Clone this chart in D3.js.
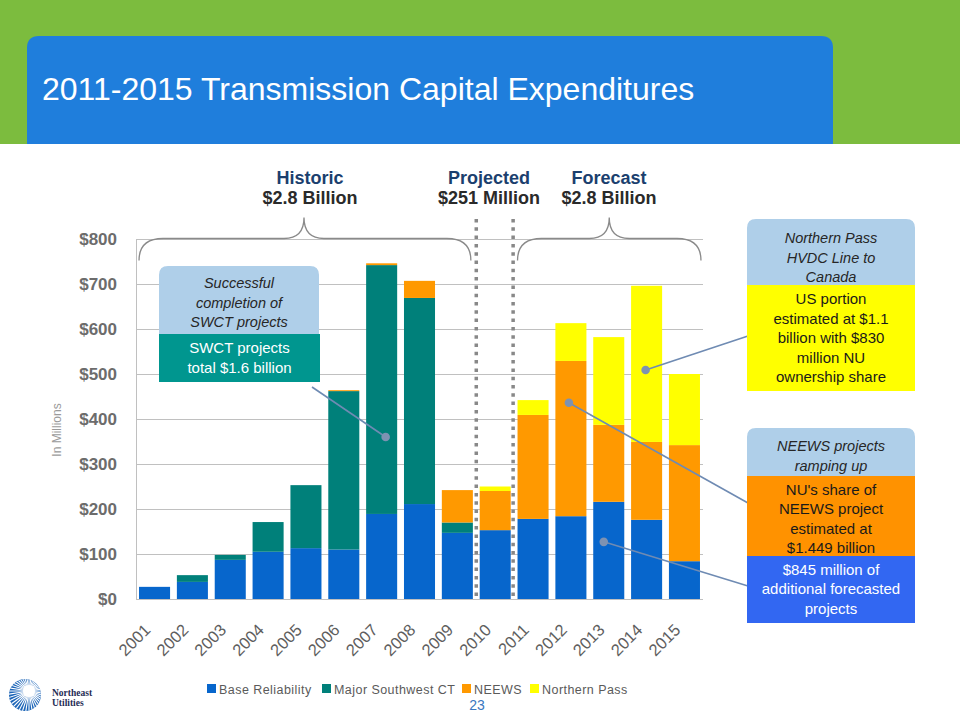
<!DOCTYPE html>
<html>
<head>
<meta charset="utf-8">
<script src="https://cdn.jsdelivr.net/npm/d3@7"></script>
<style>
  html, body { margin: 0; padding: 0; background: #fff; }
  svg { display: block; font-family: Arial, "Liberation Sans", sans-serif; }
</style>
</head>
<body>
<svg id="chart" width="960" height="720"></svg>
<script>
// ---------- DATA ----------
const years = ["2001","2002","2003","2004","2005","2006","2007","2008","2009","2010","2011","2012","2013","2014","2015"];
const baseReliability = [27, 38, 87, 105, 113, 110, 189, 211, 147, 153, 178, 184, 216, 176, 84];
const majorSouthwestCT = [0, 15, 11, 66, 140, 352, 553, 458, 23, 0, 0, 0, 0, 0, 0];
const neews = [0, 0, 0, 0, 0, 2, 4, 38, 72, 87, 231, 345, 171, 173, 258];
const northernPass = [0, 0, 0, 0, 0, 0, 0, 0, 0, 10, 33, 84, 195, 347, 158];
const seriesNames = ["Base Reliability", "Major Southwest CT", "NEEWS", "Northern Pass"];
const seriesColors = ["#0766CC", "#00807A", "#FF9900", "#FFFF00"];
const yTicks = [0, 100, 200, 300, 400, 500, 600, 700, 800];
const title = "2011-2015 Transmission Capital Expenditures";
const periodHeads = [
  { head: "Historic", sub: "$2.8 Billion" },
  { head: "Projected", sub: "$251 Million" },
  { head: "Forecast", sub: "$2.8 Billion" }
];

// ---------- SETUP ----------
const svg = d3.select("#chart");
const table = years.map((y, i) => ({
  year: y,
  "Base Reliability": baseReliability[i],
  "Major Southwest CT": majorSouthwestCT[i],
  "NEEWS": neews[i],
  "Northern Pass": northernPass[i]
}));

const x = d3.scaleBand().domain(years).range([136, 703]).paddingInner(0.18).paddingOuter(0.08);
const y = d3.scaleLinear().domain([0, 800]).range([599, 239]);
const color = d3.scaleOrdinal().domain(seriesNames).range(seriesColors);

// ---------- HEADER ----------
svg.append("rect").attr("x", 0).attr("y", 0).attr("width", 960).attr("height", 144).attr("fill", "#7CBC3E");
const bx0 = 27, bx1 = 833, by0 = 36, by1 = 144, br = 12;
svg.append("path")
  .attr("d", `M${bx0},${by1} L${bx0},${by0 + br} Q${bx0},${by0} ${bx0 + br},${by0} L${bx1 - br},${by0} Q${bx1},${by0} ${bx1},${by0 + br} L${bx1},${by1} Z`)
  .attr("fill", "#1F7EDC");
svg.append("text").attr("x", 42).attr("y", 100).attr("fill", "#fff")
  .attr("font-size", 32).text(title);

// ---------- GRID ----------
const grid = svg.append("g").attr("transform", "translate(136,0)")
  .call(d3.axisLeft(y).tickValues(yTicks).tickSize(-567).tickFormat(""));
grid.select(".domain").remove();
grid.selectAll("line").attr("stroke", "#C0C0C0").attr("stroke-width", 1);
svg.append("line").attr("x1", 136.5).attr("x2", 136.5).attr("y1", y(800)).attr("y2", y(0))
  .attr("stroke", "#C0C0C0");

// Y tick labels
const yAxis = svg.append("g").attr("transform", "translate(117,0)")
  .call(d3.axisLeft(y).tickValues(yTicks).tickSize(0).tickPadding(0).tickFormat(d => "$" + d));
yAxis.select(".domain").remove();
yAxis.selectAll("text").attr("font-size", 17).attr("font-weight", "bold")
  .attr("fill", "#6C6C6C").attr("font-family", "Arial, 'Liberation Sans', sans-serif");

svg.append("text").attr("transform", "translate(61,430) rotate(-90)")
  .attr("text-anchor", "middle").attr("font-size", 12).attr("fill", "#9A9A9A").text("In Millions");

// ---------- BARS ----------
const stacked = d3.stack().keys(seriesNames)(table);
svg.append("g").selectAll("g").data(stacked).join("g")
  .attr("fill", d => color(d.key))
  .selectAll("rect").data(d => d).join("rect")
  .attr("x", d => x(d.data.year))
  .attr("width", x.bandwidth())
  .attr("y", d => y(d[1]))
  .attr("height", d => Math.max(0, y(d[0]) - y(d[1])));

// X labels
svg.append("g").selectAll("text").data(years).join("text")
  .attr("transform", d => `translate(${x(d) + x.bandwidth() / 2 - 3},${631}) rotate(-45)`)
  .attr("text-anchor", "end").attr("font-size", 16.5).attr("fill", "#5E5E5E").text(d => d);

// ---------- DIVIDERS ----------
const div1 = (x("2009") + x.bandwidth() + x("2010")) / 2;
const div2 = (x("2010") + x.bandwidth() + x("2011")) / 2 - 1;
[div1, div2].forEach(xx => {
  svg.append("line").attr("x1", xx).attr("x2", xx).attr("y1", 219).attr("y2", y(0))
    .attr("stroke", "#888").attr("stroke-width", 3.5).attr("stroke-dasharray", "3.5 4.8");
});

// ---------- BRACES ----------
function brace(xa, xb, xm) {
  const y0 = y(800) - 0.5, y1 = y0 + 22, yt = y0 - 21;
  return `M${xa},${y1} C${xa},${y0 + 8} ${xa + 8},${y0} ${xa + 24},${y0} L${xm - 20},${y0} ` +
    `C${xm - 8},${y0} ${xm},${y0 - 5} ${xm},${yt} C${xm},${y0 - 5} ${xm + 8},${y0} ${xm + 20},${y0} ` +
    `L${xb - 24},${y0} C${xb - 8},${y0} ${xb},${y0 + 8} ${xb},${y1}`;
}
const hA = x("2001"), hB = x("2009") + x.bandwidth() - 2;
const fA = x("2011"), fB = x("2015") + x.bandwidth() + 1;
svg.append("path").attr("d", brace(hA, hB, 304)).attr("fill", "none").attr("stroke", "#8A8A8A").attr("stroke-width", 1.3);
svg.append("path").attr("d", brace(fA, fB, (fA + fB) / 2)).attr("fill", "none").attr("stroke", "#8A8A8A").attr("stroke-width", 1.3);

// Period headings
const headX = [310, 489, 609];
periodHeads.forEach((p, i) => {
  svg.append("text").attr("x", headX[i]).attr("y", 184).attr("text-anchor", "middle")
    .attr("font-size", 18).attr("font-weight", "bold").attr("fill", "#1B3F6E").text(p.head);
  svg.append("text").attr("x", headX[i]).attr("y", 204).attr("text-anchor", "middle")
    .attr("font-size", 18).attr("font-weight", "bold").attr("fill", "#2A2A2A").text(p.sub);
});

// ---------- CALLOUTS ----------
function roundTop(x0, y0, w, h, r) {
  return `M${x0},${y0 + h} L${x0},${y0 + r} Q${x0},${y0} ${x0 + r},${y0} L${x0 + w - r},${y0} Q${x0 + w},${y0} ${x0 + w},${y0 + r} L${x0 + w},${y0 + h} Z`;
}
function textLines(lines, cx, firstY, step, opts) {
  lines.forEach((t, i) => {
    svg.append("text").attr("x", cx).attr("y", firstY + i * step).attr("text-anchor", "middle")
      .attr("font-size", opts.size).attr("font-style", opts.italic ? "italic" : "normal")
      .attr("fill", opts.fill).text(t);
  });
}
const lightBlue = "#AFCFE9";

// connector lines (under boxes): end point on a bar, at a value, with small x offset
const connectors = [
  { x1: 312, y1: 387, year: "2007", v: 360, dx: 4 },
  { x1: 748, y1: 336, year: "2014", v: 509, dx: -1 },
  { x1: 748, y1: 503, year: "2012", v: 436, dx: -2 },
  { x1: 748, y1: 586, year: "2013", v: 127, dx: -5 }
];
connectors.forEach(c => {
  const cx = x(c.year) + x.bandwidth() / 2 + c.dx, cy = y(c.v);
  svg.append("line").attr("x1", c.x1).attr("y1", c.y1).attr("x2", cx).attr("y2", cy)
    .attr("stroke", "#6F8BB3").attr("stroke-width", 1.6);
  svg.append("circle").attr("cx", cx).attr("cy", cy).attr("r", 4.3).attr("fill", "#7D92B2");
});

// SWCT
svg.append("path").attr("d", roundTop(159, 266, 160, 70, 9)).attr("fill", lightBlue);
textLines(["Successful", "completion of", "SWCT projects"], 239, 288, 19.5, { size: 14.5, italic: true, fill: "#262626" });
svg.append("rect").attr("x", 159).attr("y", 334).attr("width", 161).attr("height", 48).attr("fill", "#00968F");
textLines(["SWCT projects", "total $1.6 billion"], 239.5, 353, 19.5, { size: 15, italic: false, fill: "#fff" });

// Northern Pass
svg.append("path").attr("d", roundTop(747, 219, 168, 67, 9)).attr("fill", lightBlue);
textLines(["Northern Pass", "HVDC Line to", "Canada"], 831, 243, 19.5, { size: 14.5, italic: true, fill: "#262626" });
svg.append("rect").attr("x", 747).attr("y", 285).attr("width", 168).attr("height", 106).attr("fill", "#FFFF00");
textLines(["US portion", "estimated at $1.1", "billion with $830", "million NU", "ownership share"], 831, 304, 19.5, { size: 15, italic: false, fill: "#1A1A1A" });

// NEEWS
svg.append("path").attr("d", roundTop(747, 428, 168, 49, 9)).attr("fill", lightBlue);
textLines(["NEEWS projects", "ramping up"], 831, 451, 19.5, { size: 14.5, italic: true, fill: "#262626" });
svg.append("rect").attr("x", 747).attr("y", 476).attr("width", 168).attr("height", 80).attr("fill", "#FF9200");
svg.append("rect").attr("x", 747).attr("y", 556).attr("width", 168).attr("height", 67).attr("fill", "#3267F2");
textLines(["NU's share of", "NEEWS project", "estimated at", "$1.449 billion"], 831, 495, 19.3, { size: 15, italic: false, fill: "#1A1A1A" });
textLines(["$845 million of", "additional forecasted", "projects"], 831, 575, 19.3, { size: 15, italic: false, fill: "#fff" });

// ---------- LEGEND ----------
const legendX = [207, 322, 462, 530];
const legend = svg.append("g").selectAll("g").data(seriesNames).join("g")
  .attr("transform", (d, i) => `translate(${legendX[i]},689)`);
legend.append("rect").attr("x", 0).attr("y", -5).attr("width", 9).attr("height", 9).attr("fill", d => color(d));
legend.append("text").attr("x", 12).attr("y", 4.5).attr("font-size", 12.5).attr("letter-spacing", 0.45)
  .attr("fill", "#5A5A5A").text(d => d);

// page number
svg.append("text").attr("x", 477).attr("y", 710).attr("text-anchor", "middle")
  .attr("font-size", 14).attr("fill", "#3A78C0").text("23");

// ---------- LOGO ----------
const logo = svg.append("g");
logo.append("clipPath").attr("id", "logoClip").append("circle").attr("cx", 25).attr("cy", 695).attr("r", 16);
logo.append("circle").attr("cx", 25).attr("cy", 695).attr("r", 16).attr("fill", "#1E66B8");
const rays = logo.append("g").attr("clip-path", "url(#logoClip)");
d3.range(0, 360, 9).forEach(a => {
  const r = a * Math.PI / 180;
  rays.append("line").attr("x1", 29).attr("y1", 691).attr("x2", 29 + 30 * Math.cos(r)).attr("y2", 691 + 30 * Math.sin(r))
    .attr("stroke", "#fff").attr("stroke-width", 1.1);
});
logo.append("circle").attr("cx", 29).attr("cy", 691).attr("r", 6).attr("fill", "#fff");
logo.append("text").attr("x", 52).attr("y", 696).attr("font-family", "'Liberation Serif', 'DejaVu Serif', serif")
  .attr("font-weight", "bold").attr("font-size", 9.5).attr("fill", "#1F2D55").text("Northeast");
logo.append("text").attr("x", 52).attr("y", 706).attr("font-family", "'Liberation Serif', 'DejaVu Serif', serif")
  .attr("font-weight", "bold").attr("font-size", 9.5).attr("fill", "#1F2D55").text("Utilities");
</script>
</body>
</html>
